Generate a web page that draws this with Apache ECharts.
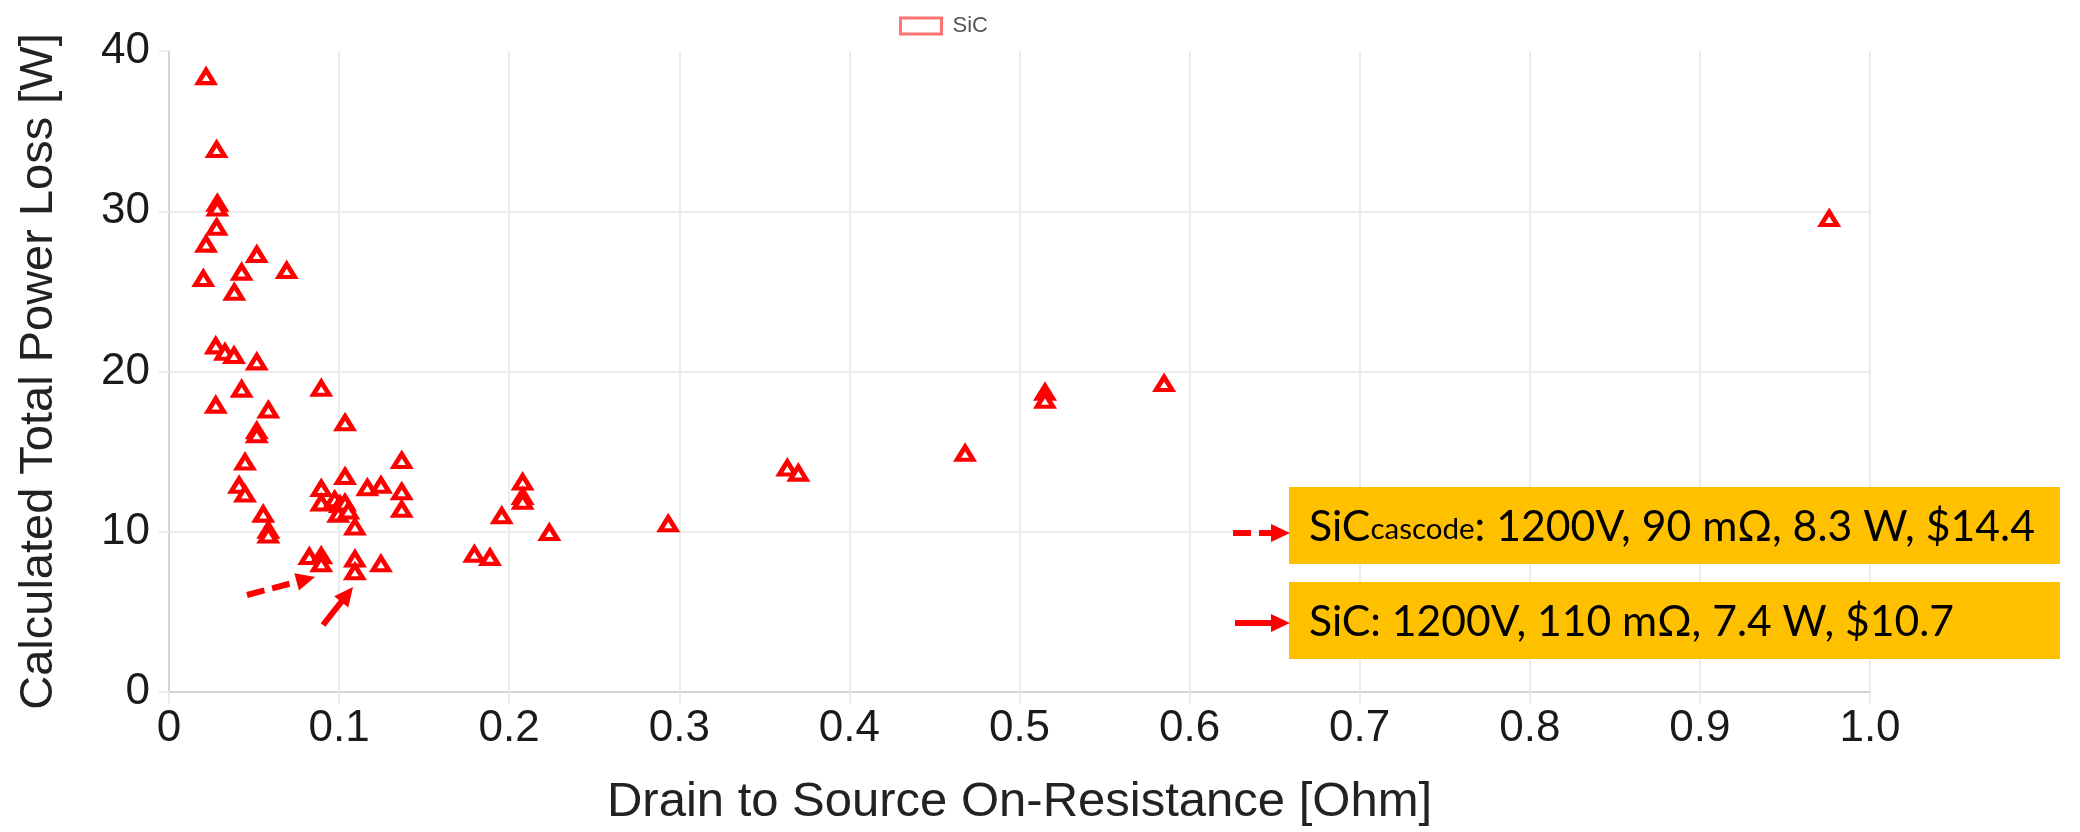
<!DOCTYPE html>
<html>
<head>
<meta charset="utf-8">
<script src="https://cdn.jsdelivr.net/npm/echarts@6/dist/echarts.min.js"></script>
<style>
  html, body { margin: 0; padding: 0; background: #fff; }
  #main { width: 2080px; height: 832px; }
</style>
</head>
<body>
<div id="main"></div>
<script>
// drain-source on-resistance [Ohm] and calculated total loss [W]
var rdsOn = [0.0218, 0.0280, 0.0284, 0.0284, 0.0280, 0.0218, 0.0516, 0.0427, 0.0692, 0.0202,
  0.0384, 0.0275, 0.0329, 0.0382, 0.0516, 0.0427, 0.0895, 0.0275, 0.0584, 0.1035,
  0.0516, 0.0516, 0.0447, 0.1368, 0.0412, 0.0447, 0.1035, 0.0895, 0.1166, 0.1246,
  0.1368, 0.0895, 0.0974, 0.1005, 0.1035, 0.0995, 0.1054, 0.1368, 0.0554, 0.0584,
  0.0584, 0.1093, 0.0825, 0.0895, 0.0895, 0.1093, 0.1093, 0.1246, 0.1795, 0.1887,
  0.1956, 0.2079, 0.2079, 0.2079, 0.2236, 0.2935, 0.3635, 0.3700, 0.4680, 0.5150,
  0.5150, 0.5850, 0.9760];
var powerLoss = [38.4, 33.85, 30.5, 30.2, 29.0, 27.95, 27.3, 26.2, 26.3, 25.8,
  24.95, 21.6, 21.2, 21.0, 20.6, 18.9, 18.95, 17.9, 17.6, 16.8,
  16.3, 16.05, 14.35, 14.45, 12.9, 12.35, 13.45, 12.7, 12.75, 12.9,
  12.5, 11.8, 12.0, 11.7, 11.8, 11.1, 11.3, 11.4, 11.1, 10.1,
  9.8, 10.3, 8.45, 8.5, 8.0, 8.3, 7.5, 8.0, 8.6, 8.4,
  11.0, 13.1, 12.2, 11.9, 9.95, 10.5, 13.98, 13.66, 14.9, 18.7,
  18.2, 19.25, 29.55];
var seriesName = 'SiC';
var xTitle = 'Drain to Source On-Resistance [Ohm]';
var yTitle = 'Calculated Total Power Loss [W]';
var noteCascode = ['SiC', 'cascode', ': 1200V, 90 m\u03A9, 8.3 W, $14.4'];
var noteSiC = 'SiC: 1200V, 110 m\u03A9, 7.4 W, $10.7';

var points = rdsOn.map(function (r, i) { return [r, powerLoss[i]]; });

var chart = echarts.init(document.getElementById('main'));

// measure text so the callout lines can be stretched to the reference width
var mctx = document.createElement('canvas').getContext('2d');
function textWidth(t, font) { mctx.font = font; return mctx.measureText(t).width; }
var boxFont = 'Lato, "Open Sans", sans-serif';
var bigF = 42, smallF = 29;
var w1 = textWidth(noteCascode[0], bigF + 'px ' + boxFont) +
         textWidth(noteCascode[1], smallF + 'px ' + boxFont) +
         textWidth(noteCascode[2], bigF + 'px ' + boxFont);
var w2 = textWidth(noteSiC, bigF + 'px ' + boxFont);

function arrow(x1, y1, x2, y2, dashed) {
  var dx = x2 - x1, dy = y2 - y1, L = Math.sqrt(dx * dx + dy * dy);
  var ux = dx / L, uy = dy / L, hl = 19, hw = 9;
  var bx = x2 - ux * hl, by = y2 - uy * hl;
  return [
    { type: 'line', z: 100, shape: { x1: x1, y1: y1, x2: bx + ux * 2, y2: by + uy * 2 },
      style: { stroke: '#ff0000', lineWidth: 6, lineDash: dashed ? [18, 8] : null } },
    { type: 'polygon', z: 100, shape: { points: [[x2, y2], [bx - uy * hw, by + ux * hw], [bx + uy * hw, by - ux * hw]] },
      style: { fill: '#ff0000' } }
  ];
}

var graphics = [
  { type: 'rect', z: 100, shape: { x: 1289, y: 487, width: 771, height: 77 }, style: { fill: '#FFC000' } },
  { type: 'rect', z: 100, shape: { x: 1289, y: 582, width: 771, height: 77 }, style: { fill: '#FFC000' } },
  { type: 'text', z: 101, x: 1309, y: 527, scaleX: 726 / w1, originX: 0, originY: 0,
    style: {
      text: '{a|' + noteCascode[0] + '}{b|' + noteCascode[1] + '}{a|' + noteCascode[2] + '}',
      rich: {
        a: { fontSize: bigF, fontFamily: boxFont, fill: '#000' },
        b: { fontSize: smallF, fontFamily: boxFont, fill: '#000', padding: [6, 0, 0, 0] }
      },
      verticalAlign: 'middle'
    } },
  { type: 'text', z: 101, x: 1309, y: 622, scaleX: 645 / w2, originX: 0, originY: 0,
    style: { text: noteSiC, fontSize: bigF, fontFamily: boxFont, fill: '#000', verticalAlign: 'middle' } }
]
  .concat(arrow(1233, 533, 1290, 533, true))
  .concat(arrow(1235, 623, 1290, 623, false))
  .concat(arrow(247, 595, 315, 577, true))
  .concat(arrow(323, 625, 353, 587, false));

var gridColor = '#ececec';
var sans = '"Liberation Sans", Arial, sans-serif';

chart.setOption({
  animation: false,
  backgroundColor: '#fff',
  legend: {
    left: 894, top: 10,
    itemWidth: 41, itemHeight: 16, itemGap: 10,
    data: [{ name: seriesName, icon: 'rect' }],
    itemStyle: { color: '#fff', borderColor: 'rgba(255,80,80,0.8)', borderWidth: 3 },
    textStyle: { fontSize: 22, color: '#555', fontFamily: sans, padding: [0, 0, 0, 6] }
  },
  grid: { left: 169, top: 51, width: 1701, height: 644 },
  xAxis: {
    type: 'value', min: 0, max: 1, interval: 0.1,
    name: xTitle, nameLocation: 'middle', nameGap: 86,
    nameTextStyle: { fontSize: 49, color: '#222', fontFamily: sans },
    axisLine: { show: true, onZero: false, lineStyle: { color: '#d4d4d4', width: 2 } },
    axisTick: { show: true, length: 12, lineStyle: { color: gridColor, width: 2 } },
    splitLine: { show: true, lineStyle: { color: gridColor, width: 2 } },
    axisLabel: {
      fontSize: 44, margin: 15, color: '#1a1a1a', fontFamily: sans,
      formatter: function (v) { return v === 0 ? '0' : v.toFixed(1); }
    }
  },
  yAxis: {
    type: 'value', min: 0, max: 40, interval: 10,
    name: yTitle, nameLocation: 'middle', nameGap: 106,
    nameTextStyle: { fontSize: 47, color: '#222', fontFamily: sans },
    axisLine: { show: true, lineStyle: { color: '#d4d4d4', width: 2 } },
    axisTick: { show: true, length: 10, lineStyle: { color: gridColor, width: 2 } },
    splitLine: { show: true, showMaxLine: false, lineStyle: { color: gridColor, width: 2 } },
    axisLabel: { fontSize: 44, margin: 19, color: '#1a1a1a', fontFamily: sans }
  },
  series: [{
    name: seriesName,
    type: 'scatter',
    symbol: 'triangle',
    symbolSize: [16, 13],
    itemStyle: { color: '#fff', borderColor: '#ff0000', borderWidth: 4.5, opacity: 1 },
    data: points
  }],
  graphic: graphics
});
</script>
</body>
</html>
